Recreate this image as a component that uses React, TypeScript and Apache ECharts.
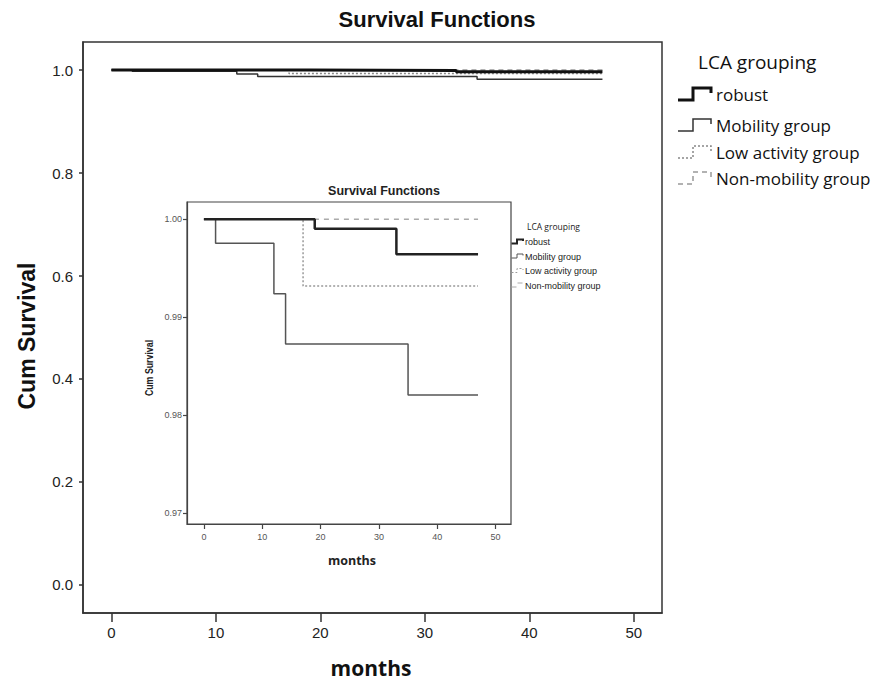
import React, { useEffect, useRef } from "react";
import * as echarts from "echarts";

// ---- data (Kaplan-Meier step functions, months vs cumulative survival) ----
const robustT = [0, 19, 33, 47];
const robustS = [1.0, 0.99904, 0.99643, 0.99643];
const mobilityT = [0, 2, 12, 14, 35, 47];
const mobilityS = [1.0, 0.99755, 0.99241, 0.98728, 0.98207, 0.98207];
const lowT = [0, 17, 47];
const lowS = [1.0, 0.99319, 0.99319];
const nonT = [0, 47];
const nonS = [1.0, 1.0];

const groupNames = ["robust", "Mobility group", "Low activity group", "Non-mobility group"];
const mainXTicks = [0, 10, 20, 30, 40, 50];
const mainYTicks = [0, 0.2, 0.4, 0.6, 0.8, 1.0];
const insetXTicks = [0, 10, 20, 30, 40, 50];
const insetYTicks = [0.97, 0.98, 0.99, 1.0];

const titleText = "Survival Functions";
const yName = "Cum Survival";
const xName = "months";
const legendTitle = "LCA grouping";

const pairs = (t: number[], s: number[]) => t.map((v, i) => [v, s[i]]);

const ARIAL = '"Liberation Sans", Arial, sans-serif';
const CAL = '"Open Sans", sans-serif';

const styles = [
  { color: "#111", width: 3, type: "solid" as any },
  { color: "#333", width: 1.5, type: "solid" as any },
  { color: "#888", width: 1.5, type: [2, 2] as any },
  { color: "#999", width: 1.5, type: [5, 4] as any },
];
const insetStyles = [
  { color: "#222", width: 2.5, type: "solid" as any },
  { color: "#555", width: 1.5, type: "solid" as any },
  { color: "#999", width: 1.5, type: [2, 2] as any },
  { color: "#aaa", width: 1.5, type: [5, 5] as any },
];

export default function App() {
  const ref = useRef<HTMLDivElement>(null);
  useEffect(() => {
    if (!ref.current) return;
    const chart = echarts.init(ref.current, null, { renderer: "svg" });
    const data = [
      pairs(robustT, robustS),
      pairs(mobilityT, mobilityS),
      pairs(lowT, lowS),
      pairs(nonT, nonS),
    ];
    const order = [3, 2, 1, 0];
    const series: any[] = [];
    order.forEach((i) => {
      series.push({
        name: groupNames[i],
        type: "line",
        step: "end",
        symbol: "none",
        xAxisIndex: 0,
        yAxisIndex: 0,
        data: data[i],
        lineStyle: styles[i],
        z: 3 + (3 - i),
      });
    });
    order.forEach((i) => {
      series.push({
        name: groupNames[i] + " (inset)",
        type: "line",
        step: "end",
        symbol: "none",
        xAxisIndex: 1,
        yAxisIndex: 1,
        data: data[i],
        lineStyle: insetStyles[i],
        z: 3 + (3 - i),
      });
    });

    const axisCol = "#333";
    const legendIcon = (x0: number, yLow: number, yTop: number, yEnd: number, st: any, w: number, stepX: number, x1: number) => ({
      type: "polyline",
      shape: { points: [[x0, yLow], [stepX, yLow], [stepX, yTop], [x1, yTop], [x1, yEnd]] },
      style: {
        stroke: st.color,
        lineWidth: w,
        fill: null,
        lineDash: Array.isArray(st.type) ? st.type : null,
      },
    });
    const txt = (x: number, y: number, text: string, font: string, fill = "#111", align = "left", extra: any = {}) => ({
      type: "text",
      x,
      y,
      ...extra,
      style: { text, font, fill, textAlign: align, textVerticalAlign: "middle", align, verticalAlign: "middle" },
    });

    const mainItemsY = [94, 125, 152, 178];
    const insetItemsY = [242, 256.5, 271, 285.5];

    const graphics: any[] = [
      txt(437, 19, titleText, `bold 22px ${ARIAL}`, "#111", "center"),
      txt(27, 336, yName, `bold 23px ${ARIAL}`, "#111", "center", { rotation: Math.PI / 2 }),
      txt(371, 668, xName, `bold 21px ${CAL}`, "#111", "center"),
      txt(698, 62, legendTitle, `19px ${CAL}`, "#111", "left"),
      // inset texts
      txt(384, 190.5, titleText, `bold 12.5px ${ARIAL}`, "#222", "center"),
      txt(149, 368, yName, `bold 11px ${ARIAL}`, "#222", "center", { rotation: Math.PI / 2, scaleX: 0.8 }),
      txt(352, 560.5, xName, `bold 12.5px ${CAL}`, "#222", "center"),
      txt(527, 226, legendTitle, `8.5px ${CAL}`, "#222", "left"),
    ];
    groupNames.forEach((n, i) => {
      const y = mainItemsY[i];
      graphics.push(txt(716, y, n, `17px ${CAL}`, "#111", "left"));
      graphics.push(legendIcon(678, y + 6, y - 6, y - 1, styles[i], i === 0 ? 3 : 1.5, 693, 711));
      const yi = insetItemsY[i];
      graphics.push(txt(525, yi, n, `9px ${ARIAL}`, "#222", "left"));
      graphics.push(legendIcon(511.5, yi + 1.5, yi - 2.5, yi - 1, insetStyles[i], i === 0 ? 2 : 1, 517, 523));
    });

    chart.setOption({
      animation: false,
      backgroundColor: "#fff",
      grid: [
        { left: 83, top: 42, right: 210, bottom: 71, show: true, borderColor: axisCol, borderWidth: 1.5, backgroundColor: "transparent" },
        { left: 187, top: 202, right: 361, bottom: 160, show: true, borderColor: "#444", borderWidth: 1.2, backgroundColor: "transparent" },
      ],
      xAxis: [
        {
          type: "value",
          gridIndex: 0,
          min: -2.72,
          max: 52.7,
          axisLine: { show: true, onZero: false, lineStyle: { color: axisCol, width: 1.5 } },
          axisTick: { show: true, length: 9, customValues: mainXTicks, lineStyle: { color: axisCol, width: 1.5 } },
          axisLabel: { customValues: mainXTicks, margin: 12, fontSize: 15, fontFamily: ARIAL, color: "#222" },
          splitLine: { show: false },
        },
        {
          type: "value",
          gridIndex: 1,
          min: -2.9,
          max: 52.65,
          axisLine: { show: true, onZero: false, lineStyle: { color: "#444", width: 1.2 } },
          axisTick: { show: true, length: 5, customValues: insetXTicks, lineStyle: { color: "#444", width: 1.2 } },
          axisLabel: { customValues: insetXTicks, margin: 8, fontSize: 9, fontFamily: ARIAL, color: "#555" },
          splitLine: { show: false },
        },
      ],
      yAxis: [
        {
          type: "value",
          gridIndex: 0,
          min: -0.0544,
          max: 1.0544,
          axisLine: { show: true, onZero: false, lineStyle: { color: axisCol, width: 1.5 } },
          axisTick: { show: true, length: 4, customValues: mainYTicks, lineStyle: { color: axisCol, width: 1.5 } },
          axisLabel: {
            customValues: mainYTicks,
            margin: 10,
            fontSize: 15,
            fontFamily: ARIAL,
            color: "#222",
            formatter: (v: number) => v.toFixed(1),
          },
          splitLine: { show: false },
        },
        {
          type: "value",
          gridIndex: 1,
          min: 0.96891,
          max: 1.001765,
          axisLine: { show: true, onZero: false, lineStyle: { color: "#444", width: 1.2 } },
          axisTick: { show: true, length: 4, customValues: insetYTicks, lineStyle: { color: "#444", width: 1.2 } },
          axisLabel: {
            customValues: insetYTicks,
            margin: 5,
            fontSize: 9,
            fontFamily: ARIAL,
            color: "#555",
            formatter: (v: number) => v.toFixed(2),
          },
          splitLine: { show: false },
        },
      ],
      series,
      graphic: graphics,
    });
    return () => chart.dispose();
  }, []);
  return <div ref={ref} style={{ position: "absolute", left: 0, top: 0, width: 872, height: 684 }} />;
}
